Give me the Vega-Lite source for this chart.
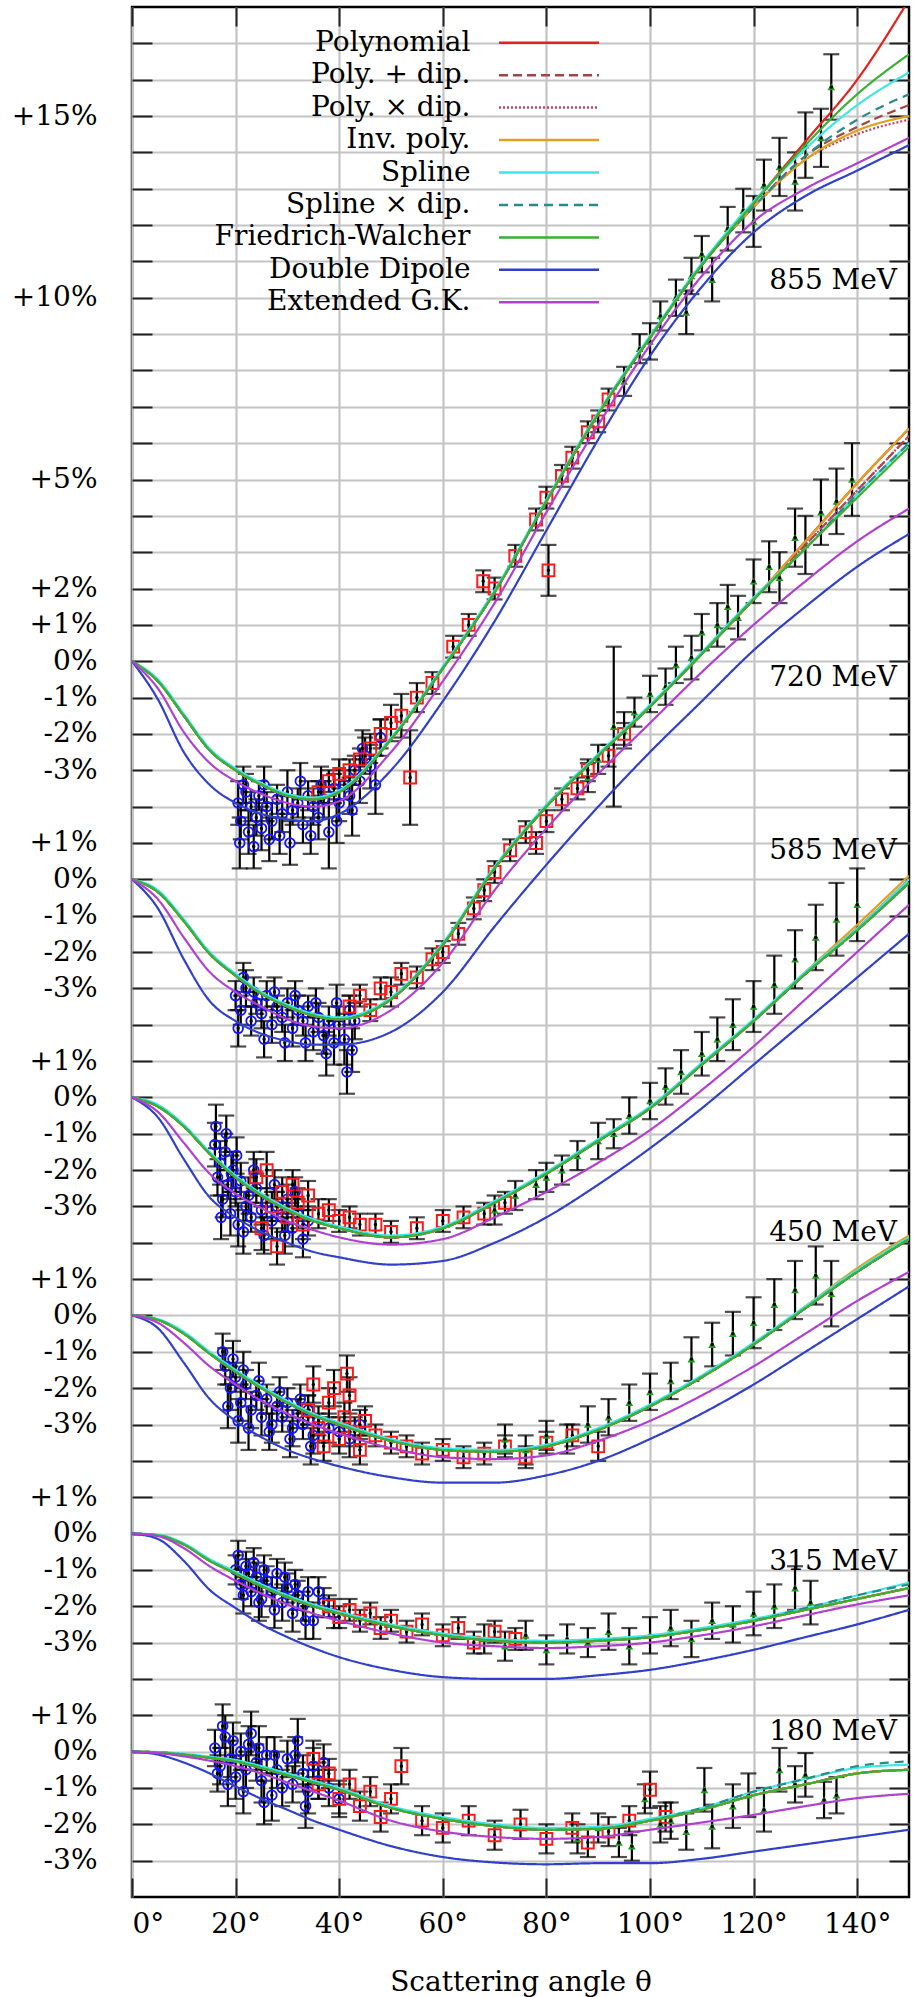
{
"$schema":"https://vega.github.io/schema/vega-lite/v6.json",
"width":777,"height":1890,
"autosize":{"type":"none"},
"padding":{"left":132,"top":7,"right":7,"bottom":100},
"background":"white",
"config":{"view":{"stroke":"black","strokeWidth":2.5},"font":"DejaVu Serif"},
"datasets":{
"curves":[
{"e":855,"t":0,"P":34,"PpD":34,"PxD":34,"IP":34,"S":34,"SxD":34,"FW":34,"DD":34,"EGK":34},
{"e":855,"t":5,"P":33.45,"PpD":33.45,"PxD":33.45,"IP":33.45,"S":33.5,"SxD":33.45,"FW":33.45,"DD":32.95,"EGK":33.25},
{"e":855,"t":10,"P":32.5,"PpD":32.5,"PxD":32.5,"IP":32.5,"S":32.55,"SxD":32.5,"FW":32.5,"DD":31.5,"EGK":32.05},
{"e":855,"t":15,"P":31.55,"PpD":31.55,"PxD":31.55,"IP":31.55,"S":31.6,"SxD":31.55,"FW":31.55,"DD":30.6,"EGK":31.2},
{"e":855,"t":20,"P":31.0,"PpD":31.0,"PxD":31.0,"IP":31.0,"S":31.05,"SxD":31.0,"FW":31.0,"DD":30.1,"EGK":30.7},
{"e":855,"t":25,"P":30.6,"PpD":30.6,"PxD":30.6,"IP":30.6,"S":30.65,"SxD":30.6,"FW":30.6,"DD":29.8,"EGK":30.35},
{"e":855,"t":30,"P":30.3,"PpD":30.3,"PxD":30.3,"IP":30.3,"S":30.35,"SxD":30.3,"FW":30.3,"DD":29.65,"EGK":30.1},
{"e":855,"t":35,"P":30.2,"PpD":30.2,"PxD":30.2,"IP":30.2,"S":30.25,"SxD":30.2,"FW":30.2,"DD":29.6,"EGK":30.0},
{"e":855,"t":40,"P":30.4,"PpD":30.4,"PxD":30.4,"IP":30.4,"S":30.45,"SxD":30.4,"FW":30.4,"DD":29.8,"EGK":30.15},
{"e":855,"t":50,"P":31.85,"PpD":31.85,"PxD":31.85,"IP":31.85,"S":31.9,"SxD":31.85,"FW":31.85,"DD":31.0,"EGK":31.5},
{"e":855,"t":60,"P":33.8,"PpD":33.8,"PxD":33.8,"IP":33.8,"S":33.85,"SxD":33.8,"FW":33.8,"DD":32.9,"EGK":33.45},
{"e":855,"t":70,"P":35.9,"PpD":35.9,"PxD":35.9,"IP":35.9,"S":35.95,"SxD":35.9,"FW":35.9,"DD":35.1,"EGK":35.6},
{"e":855,"t":80,"P":38.4,"PpD":38.4,"PxD":38.4,"IP":38.4,"S":38.45,"SxD":38.4,"FW":38.4,"DD":37.6,"EGK":38.1},
{"e":855,"t":90,"P":40.8,"PpD":40.8,"PxD":40.8,"IP":40.8,"S":40.85,"SxD":40.8,"FW":40.8,"DD":40.1,"EGK":40.5},
{"e":855,"t":100,"P":42.9,"PpD":42.9,"PxD":42.9,"IP":42.9,"S":42.95,"SxD":42.9,"FW":42.9,"DD":42.4,"EGK":42.7},
{"e":855,"t":110,"P":44.9,"PpD":44.9,"PxD":44.9,"IP":44.9,"S":44.95,"SxD":44.9,"FW":44.9,"DD":44.3,"EGK":44.6},
{"e":855,"t":120,"P":46.6,"PpD":46.5,"PxD":46.5,"IP":46.5,"S":46.65,"SxD":46.5,"FW":46.6,"DD":45.8,"EGK":46.1},
{"e":855,"t":130,"P":48.3,"PpD":47.9,"PxD":47.8,"IP":47.8,"S":48.1,"SxD":47.9,"FW":48.2,"DD":46.8,"EGK":47.0},
{"e":855,"t":140,"P":50.0,"PpD":48.7,"PxD":48.5,"IP":48.6,"S":49.3,"SxD":48.9,"FW":49.6,"DD":47.5,"EGK":47.7},
{"e":855,"t":150,"P":52.2,"PpD":49.3,"PxD":48.9,"IP":49.0,"S":50.2,"SxD":49.6,"FW":50.7,"DD":48.2,"EGK":48.4},
{"e":720,"t":0,"P":28,"PpD":28,"PxD":28,"IP":28,"S":28,"SxD":28,"FW":28,"DD":28,"EGK":28},
{"e":720,"t":5,"P":27.65,"PpD":27.65,"PxD":27.65,"IP":27.65,"S":27.7,"SxD":27.65,"FW":27.65,"DD":27.2,"EGK":27.45},
{"e":720,"t":10,"P":26.85,"PpD":26.85,"PxD":26.85,"IP":26.85,"S":26.9,"SxD":26.85,"FW":26.85,"DD":25.8,"EGK":26.4},
{"e":720,"t":15,"P":25.95,"PpD":25.95,"PxD":25.95,"IP":25.95,"S":26.0,"SxD":25.95,"FW":25.95,"DD":24.65,"EGK":25.45},
{"e":720,"t":20,"P":25.35,"PpD":25.35,"PxD":25.35,"IP":25.35,"S":25.4,"SxD":25.35,"FW":25.35,"DD":24.1,"EGK":24.9},
{"e":720,"t":25,"P":24.85,"PpD":24.85,"PxD":24.85,"IP":24.85,"S":24.9,"SxD":24.85,"FW":24.85,"DD":23.75,"EGK":24.5},
{"e":720,"t":30,"P":24.5,"PpD":24.5,"PxD":24.5,"IP":24.5,"S":24.55,"SxD":24.5,"FW":24.5,"DD":23.55,"EGK":24.15},
{"e":720,"t":35,"P":24.25,"PpD":24.25,"PxD":24.25,"IP":24.25,"S":24.3,"SxD":24.25,"FW":24.25,"DD":23.45,"EGK":23.95},
{"e":720,"t":40,"P":24.15,"PpD":24.15,"PxD":24.15,"IP":24.15,"S":24.2,"SxD":24.15,"FW":24.15,"DD":23.45,"EGK":23.9},
{"e":720,"t":50,"P":24.7,"PpD":24.7,"PxD":24.7,"IP":24.7,"S":24.75,"SxD":24.7,"FW":24.7,"DD":23.8,"EGK":24.4},
{"e":720,"t":60,"P":26.2,"PpD":26.2,"PxD":26.2,"IP":26.2,"S":26.25,"SxD":26.2,"FW":26.2,"DD":24.9,"EGK":25.7},
{"e":720,"t":70,"P":28.3,"PpD":28.3,"PxD":28.3,"IP":28.3,"S":28.35,"SxD":28.3,"FW":28.3,"DD":26.7,"EGK":27.7},
{"e":720,"t":80,"P":30.0,"PpD":30.0,"PxD":30.0,"IP":30.0,"S":30.05,"SxD":30.0,"FW":30.0,"DD":28.4,"EGK":29.4},
{"e":720,"t":90,"P":31.4,"PpD":31.4,"PxD":31.4,"IP":31.4,"S":31.45,"SxD":31.4,"FW":31.4,"DD":30.0,"EGK":30.9},
{"e":720,"t":100,"P":32.75,"PpD":32.75,"PxD":32.75,"IP":32.75,"S":32.8,"SxD":32.75,"FW":32.75,"DD":31.5,"EGK":32.3},
{"e":720,"t":110,"P":34.2,"PpD":34.2,"PxD":34.2,"IP":34.2,"S":34.25,"SxD":34.2,"FW":34.2,"DD":32.9,"EGK":33.7},
{"e":720,"t":120,"P":35.7,"PpD":35.7,"PxD":35.7,"IP":35.7,"S":35.75,"SxD":35.7,"FW":35.7,"DD":34.3,"EGK":35.0},
{"e":720,"t":130,"P":37.3,"PpD":37.2,"PxD":37.2,"IP":37.3,"S":37.1,"SxD":37.1,"FW":37.1,"DD":35.5,"EGK":36.2},
{"e":720,"t":140,"P":38.9,"PpD":38.7,"PxD":38.7,"IP":38.9,"S":38.6,"SxD":38.6,"FW":38.5,"DD":36.6,"EGK":37.3},
{"e":720,"t":150,"P":40.4,"PpD":40.2,"PxD":40.2,"IP":40.4,"S":40.0,"SxD":40.0,"FW":39.9,"DD":37.5,"EGK":38.2},
{"e":585,"t":0,"P":22,"PpD":22,"PxD":22,"IP":22,"S":22,"SxD":22,"FW":22,"DD":22,"EGK":22},
{"e":585,"t":5,"P":21.75,"PpD":21.75,"PxD":21.75,"IP":21.75,"S":21.8,"SxD":21.75,"FW":21.75,"DD":21.45,"EGK":21.6},
{"e":585,"t":10,"P":21.2,"PpD":21.2,"PxD":21.2,"IP":21.2,"S":21.25,"SxD":21.2,"FW":21.2,"DD":20.3,"EGK":20.75},
{"e":585,"t":15,"P":20.45,"PpD":20.45,"PxD":20.45,"IP":20.45,"S":20.5,"SxD":20.45,"FW":20.45,"DD":19.25,"EGK":19.9},
{"e":585,"t":20,"P":19.8,"PpD":19.8,"PxD":19.8,"IP":19.8,"S":19.85,"SxD":19.8,"FW":19.8,"DD":18.7,"EGK":19.35},
{"e":585,"t":25,"P":19.3,"PpD":19.3,"PxD":19.3,"IP":19.3,"S":19.35,"SxD":19.3,"FW":19.3,"DD":18.3,"EGK":18.95},
{"e":585,"t":30,"P":18.9,"PpD":18.9,"PxD":18.9,"IP":18.9,"S":18.95,"SxD":18.9,"FW":18.9,"DD":18.0,"EGK":18.6},
{"e":585,"t":35,"P":18.6,"PpD":18.6,"PxD":18.6,"IP":18.6,"S":18.65,"SxD":18.6,"FW":18.6,"DD":17.75,"EGK":18.35},
{"e":585,"t":40,"P":18.4,"PpD":18.4,"PxD":18.4,"IP":18.4,"S":18.45,"SxD":18.4,"FW":18.4,"DD":17.6,"EGK":18.15},
{"e":585,"t":50,"P":18.15,"PpD":18.15,"PxD":18.15,"IP":18.15,"S":18.2,"SxD":18.15,"FW":18.15,"DD":17.4,"EGK":17.95},
{"e":585,"t":60,"P":18.4,"PpD":18.4,"PxD":18.4,"IP":18.4,"S":18.45,"SxD":18.4,"FW":18.4,"DD":17.5,"EGK":18.1},
{"e":585,"t":70,"P":19.1,"PpD":19.1,"PxD":19.1,"IP":19.1,"S":19.15,"SxD":19.1,"FW":19.1,"DD":18.0,"EGK":18.7},
{"e":585,"t":80,"P":19.9,"PpD":19.9,"PxD":19.9,"IP":19.9,"S":19.95,"SxD":19.9,"FW":19.9,"DD":18.7,"EGK":19.4},
{"e":585,"t":90,"P":20.8,"PpD":20.8,"PxD":20.8,"IP":20.8,"S":20.85,"SxD":20.8,"FW":20.8,"DD":19.6,"EGK":20.2},
{"e":585,"t":100,"P":21.7,"PpD":21.7,"PxD":21.7,"IP":21.7,"S":21.75,"SxD":21.7,"FW":21.7,"DD":20.6,"EGK":21.1},
{"e":585,"t":110,"P":22.9,"PpD":22.9,"PxD":22.9,"IP":22.9,"S":22.95,"SxD":22.9,"FW":22.9,"DD":21.7,"EGK":22.2},
{"e":585,"t":120,"P":24.1,"PpD":24.1,"PxD":24.1,"IP":24.1,"S":24.15,"SxD":24.1,"FW":24.1,"DD":22.9,"EGK":23.4},
{"e":585,"t":130,"P":25.4,"PpD":25.4,"PxD":25.4,"IP":25.45,"S":25.45,"SxD":25.4,"FW":25.4,"DD":24.1,"EGK":24.7},
{"e":585,"t":140,"P":26.65,"PpD":26.6,"PxD":26.6,"IP":26.75,"S":26.65,"SxD":26.6,"FW":26.6,"DD":25.3,"EGK":26.0},
{"e":585,"t":150,"P":28.0,"PpD":27.9,"PxD":27.9,"IP":28.1,"S":28.0,"SxD":27.9,"FW":27.9,"DD":26.5,"EGK":27.3},
{"e":450,"t":0,"P":16,"PpD":16,"PxD":16,"IP":16,"S":16,"SxD":16,"FW":16,"DD":16,"EGK":16},
{"e":450,"t":5,"P":15.88,"PpD":15.88,"PxD":15.88,"IP":15.88,"S":15.9,"SxD":15.88,"FW":15.88,"DD":15.65,"EGK":15.8},
{"e":450,"t":10,"P":15.5,"PpD":15.5,"PxD":15.5,"IP":15.5,"S":15.55,"SxD":15.5,"FW":15.5,"DD":14.7,"EGK":15.25},
{"e":450,"t":15,"P":14.95,"PpD":14.95,"PxD":14.95,"IP":14.95,"S":15.0,"SxD":14.95,"FW":14.95,"DD":13.7,"EGK":14.6},
{"e":450,"t":20,"P":14.45,"PpD":14.45,"PxD":14.45,"IP":14.45,"S":14.5,"SxD":14.45,"FW":14.45,"DD":13.1,"EGK":14.1},
{"e":450,"t":25,"P":14.0,"PpD":14.0,"PxD":14.0,"IP":14.0,"S":14.05,"SxD":14.0,"FW":14.0,"DD":12.65,"EGK":13.65},
{"e":450,"t":30,"P":13.6,"PpD":13.6,"PxD":13.6,"IP":13.6,"S":13.65,"SxD":13.6,"FW":13.6,"DD":12.3,"EGK":13.3},
{"e":450,"t":35,"P":13.25,"PpD":13.25,"PxD":13.25,"IP":13.25,"S":13.3,"SxD":13.25,"FW":13.25,"DD":12.05,"EGK":13.0},
{"e":450,"t":40,"P":13.0,"PpD":13.0,"PxD":13.0,"IP":13.0,"S":13.05,"SxD":13.0,"FW":13.0,"DD":11.85,"EGK":12.75},
{"e":450,"t":50,"P":12.55,"PpD":12.55,"PxD":12.55,"IP":12.55,"S":12.6,"SxD":12.55,"FW":12.55,"DD":11.55,"EGK":12.35},
{"e":450,"t":60,"P":12.3,"PpD":12.3,"PxD":12.3,"IP":12.3,"S":12.35,"SxD":12.3,"FW":12.3,"DD":11.4,"EGK":12.1},
{"e":450,"t":70,"P":12.25,"PpD":12.25,"PxD":12.25,"IP":12.25,"S":12.3,"SxD":12.25,"FW":12.25,"DD":11.4,"EGK":12.05},
{"e":450,"t":80,"P":12.4,"PpD":12.4,"PxD":12.4,"IP":12.4,"S":12.45,"SxD":12.4,"FW":12.4,"DD":11.6,"EGK":12.15},
{"e":450,"t":90,"P":12.85,"PpD":12.85,"PxD":12.85,"IP":12.85,"S":12.9,"SxD":12.85,"FW":12.85,"DD":12.0,"EGK":12.55},
{"e":450,"t":100,"P":13.5,"PpD":13.5,"PxD":13.5,"IP":13.5,"S":13.55,"SxD":13.5,"FW":13.5,"DD":12.6,"EGK":13.1},
{"e":450,"t":110,"P":14.3,"PpD":14.3,"PxD":14.3,"IP":14.3,"S":14.35,"SxD":14.3,"FW":14.3,"DD":13.3,"EGK":13.8},
{"e":450,"t":120,"P":15.2,"PpD":15.2,"PxD":15.2,"IP":15.2,"S":15.25,"SxD":15.2,"FW":15.2,"DD":14.1,"EGK":14.6},
{"e":450,"t":130,"P":16.2,"PpD":16.2,"PxD":16.2,"IP":16.25,"S":16.25,"SxD":16.2,"FW":16.2,"DD":15.0,"EGK":15.5},
{"e":450,"t":140,"P":17.2,"PpD":17.2,"PxD":17.2,"IP":17.3,"S":17.25,"SxD":17.2,"FW":17.2,"DD":15.9,"EGK":16.4},
{"e":450,"t":150,"P":18.1,"PpD":18.1,"PxD":18.1,"IP":18.2,"S":18.15,"SxD":18.1,"FW":18.1,"DD":16.8,"EGK":17.2},
{"e":315,"t":0,"P":10,"PpD":10,"PxD":10,"IP":10,"S":10,"SxD":10,"FW":10,"DD":10,"EGK":10},
{"e":315,"t":5,"P":9.95,"PpD":9.95,"PxD":9.95,"IP":9.95,"S":9.97,"SxD":9.95,"FW":9.95,"DD":9.85,"EGK":9.93},
{"e":315,"t":10,"P":9.7,"PpD":9.7,"PxD":9.7,"IP":9.7,"S":9.73,"SxD":9.7,"FW":9.7,"DD":9.25,"EGK":9.6},
{"e":315,"t":15,"P":9.25,"PpD":9.25,"PxD":9.25,"IP":9.25,"S":9.3,"SxD":9.25,"FW":9.25,"DD":8.45,"EGK":9.1},
{"e":315,"t":20,"P":8.9,"PpD":8.9,"PxD":8.9,"IP":8.9,"S":8.95,"SxD":8.9,"FW":8.9,"DD":7.95,"EGK":8.7},
{"e":315,"t":25,"P":8.55,"PpD":8.55,"PxD":8.55,"IP":8.55,"S":8.6,"SxD":8.55,"FW":8.55,"DD":7.5,"EGK":8.35},
{"e":315,"t":30,"P":8.25,"PpD":8.25,"PxD":8.25,"IP":8.25,"S":8.3,"SxD":8.25,"FW":8.25,"DD":7.15,"EGK":8.05},
{"e":315,"t":35,"P":8.0,"PpD":8.0,"PxD":8.0,"IP":8.0,"S":8.05,"SxD":8.0,"FW":8.0,"DD":6.85,"EGK":7.8},
{"e":315,"t":40,"P":7.8,"PpD":7.8,"PxD":7.8,"IP":7.8,"S":7.85,"SxD":7.8,"FW":7.8,"DD":6.6,"EGK":7.6},
{"e":315,"t":50,"P":7.45,"PpD":7.45,"PxD":7.45,"IP":7.45,"S":7.5,"SxD":7.45,"FW":7.45,"DD":6.25,"EGK":7.25},
{"e":315,"t":60,"P":7.2,"PpD":7.2,"PxD":7.2,"IP":7.2,"S":7.25,"SxD":7.2,"FW":7.2,"DD":6.05,"EGK":7.0},
{"e":315,"t":70,"P":7.05,"PpD":7.05,"PxD":7.05,"IP":7.05,"S":7.1,"SxD":7.05,"FW":7.05,"DD":6.0,"EGK":6.9},
{"e":315,"t":80,"P":7.0,"PpD":7.0,"PxD":7.0,"IP":7.0,"S":7.05,"SxD":7.0,"FW":7.0,"DD":6.0,"EGK":6.85},
{"e":315,"t":90,"P":7.05,"PpD":7.05,"PxD":7.05,"IP":7.05,"S":7.1,"SxD":7.05,"FW":7.05,"DD":6.1,"EGK":6.9},
{"e":315,"t":100,"P":7.15,"PpD":7.15,"PxD":7.15,"IP":7.15,"S":7.2,"SxD":7.15,"FW":7.15,"DD":6.25,"EGK":7.0},
{"e":315,"t":110,"P":7.35,"PpD":7.35,"PxD":7.35,"IP":7.35,"S":7.4,"SxD":7.35,"FW":7.35,"DD":6.5,"EGK":7.2},
{"e":315,"t":120,"P":7.6,"PpD":7.6,"PxD":7.6,"IP":7.6,"S":7.65,"SxD":7.6,"FW":7.6,"DD":6.8,"EGK":7.45},
{"e":315,"t":130,"P":7.9,"PpD":7.9,"PxD":7.9,"IP":7.9,"S":7.95,"SxD":7.95,"FW":7.9,"DD":7.15,"EGK":7.75},
{"e":315,"t":140,"P":8.2,"PpD":8.2,"PxD":8.2,"IP":8.2,"S":8.3,"SxD":8.3,"FW":8.2,"DD":7.5,"EGK":8.05},
{"e":315,"t":150,"P":8.5,"PpD":8.5,"PxD":8.5,"IP":8.5,"S":8.65,"SxD":8.6,"FW":8.5,"DD":7.9,"EGK":8.3},
{"e":180,"t":0,"P":4,"PpD":4,"PxD":4,"IP":4,"S":4,"SxD":4,"FW":4,"DD":4,"EGK":4},
{"e":180,"t":5,"P":3.98,"PpD":3.98,"PxD":3.98,"IP":3.98,"S":3.99,"SxD":3.98,"FW":3.98,"DD":3.92,"EGK":3.96},
{"e":180,"t":10,"P":3.92,"PpD":3.92,"PxD":3.92,"IP":3.92,"S":3.94,"SxD":3.92,"FW":3.92,"DD":3.7,"EGK":3.87},
{"e":180,"t":15,"P":3.83,"PpD":3.83,"PxD":3.83,"IP":3.83,"S":3.86,"SxD":3.83,"FW":3.83,"DD":3.4,"EGK":3.75},
{"e":180,"t":20,"P":3.73,"PpD":3.73,"PxD":3.73,"IP":3.73,"S":3.77,"SxD":3.73,"FW":3.73,"DD":3.04,"EGK":3.6},
{"e":180,"t":25,"P":3.55,"PpD":3.55,"PxD":3.55,"IP":3.55,"S":3.6,"SxD":3.55,"FW":3.55,"DD":2.7,"EGK":3.4},
{"e":180,"t":30,"P":3.35,"PpD":3.35,"PxD":3.35,"IP":3.35,"S":3.4,"SxD":3.35,"FW":3.35,"DD":2.4,"EGK":3.15},
{"e":180,"t":35,"P":3.15,"PpD":3.15,"PxD":3.15,"IP":3.15,"S":3.2,"SxD":3.15,"FW":3.15,"DD":2.1,"EGK":2.9},
{"e":180,"t":40,"P":2.95,"PpD":2.95,"PxD":2.95,"IP":2.95,"S":3.0,"SxD":2.95,"FW":2.95,"DD":1.85,"EGK":2.65},
{"e":180,"t":50,"P":2.45,"PpD":2.45,"PxD":2.45,"IP":2.45,"S":2.5,"SxD":2.45,"FW":2.45,"DD":1.4,"EGK":2.1},
{"e":180,"t":60,"P":2.15,"PpD":2.15,"PxD":2.15,"IP":2.15,"S":2.2,"SxD":2.15,"FW":2.15,"DD":1.1,"EGK":1.8},
{"e":180,"t":70,"P":1.95,"PpD":1.95,"PxD":1.95,"IP":1.95,"S":2.0,"SxD":1.95,"FW":1.95,"DD":0.95,"EGK":1.65},
{"e":180,"t":80,"P":1.85,"PpD":1.85,"PxD":1.85,"IP":1.85,"S":1.9,"SxD":1.85,"FW":1.85,"DD":0.9,"EGK":1.6},
{"e":180,"t":90,"P":1.88,"PpD":1.88,"PxD":1.88,"IP":1.88,"S":1.93,"SxD":1.88,"FW":1.88,"DD":0.93,"EGK":1.65},
{"e":180,"t":100,"P":2.1,"PpD":2.1,"PxD":2.1,"IP":2.1,"S":2.15,"SxD":2.1,"FW":2.1,"DD":0.93,"EGK":1.85},
{"e":180,"t":110,"P":2.4,"PpD":2.4,"PxD":2.4,"IP":2.4,"S":2.45,"SxD":2.45,"FW":2.4,"DD":1.05,"EGK":2.05},
{"e":180,"t":120,"P":2.8,"PpD":2.8,"PxD":2.8,"IP":2.8,"S":2.9,"SxD":2.9,"FW":2.8,"DD":1.25,"EGK":2.26},
{"e":180,"t":130,"P":3.1,"PpD":3.1,"PxD":3.1,"IP":3.1,"S":3.25,"SxD":3.25,"FW":3.1,"DD":1.45,"EGK":2.5},
{"e":180,"t":140,"P":3.4,"PpD":3.4,"PxD":3.4,"IP":3.4,"S":3.55,"SxD":3.6,"FW":3.4,"DD":1.65,"EGK":2.72},
{"e":180,"t":150,"P":3.5,"PpD":3.5,"PxD":3.5,"IP":3.5,"S":3.64,"SxD":3.73,"FW":3.5,"DD":1.85,"EGK":2.84}
],
"points":[
{"e":855,"s":"A","t":20.5,"y":30.1,"err":0.6},{"e":855,"s":"A","t":21,"y":29.6,"err":0.5},{"e":855,"s":"A","t":22,"y":30.4,"err":0.5},{"e":855,"s":"A","t":22.5,"y":29.3,"err":0.6},{"e":855,"s":"A","t":23,"y":30.0,"err":0.4},{"e":855,"s":"A","t":24,"y":29.7,"err":0.5},{"e":855,"s":"A","t":24.5,"y":30.3,"err":0.4},{"e":855,"s":"A","t":25,"y":29.4,"err":0.6},{"e":855,"s":"A","t":26,"y":30.0,"err":0.4},{"e":855,"s":"A","t":27,"y":29.6,"err":0.5},{"e":855,"s":"A","t":28,"y":30.2,"err":0.4},{"e":855,"s":"A","t":29,"y":29.8,"err":0.5},{"e":855,"s":"A","t":30,"y":30.4,"err":0.6},{"e":855,"s":"A","t":31,"y":29.9,"err":0.4},{"e":855,"s":"A","t":32,"y":30.1,"err":0.4},{"e":855,"s":"A","t":33,"y":29.5,"err":0.5},{"e":855,"s":"A","t":34,"y":30.3,"err":0.4},{"e":855,"s":"A","t":35,"y":30.0,"err":0.5},{"e":855,"s":"A","t":36,"y":29.7,"err":0.6},{"e":855,"s":"A","t":37,"y":30.2,"err":0.5},{"e":855,"s":"A","t":38,"y":29.3,"err":1.0},{"e":855,"s":"A","t":39,"y":30.5,"err":0.4},{"e":855,"s":"A","t":40,"y":30.1,"err":0.5},{"e":855,"s":"A","t":41,"y":30.6,"err":0.4},{"e":855,"s":"A","t":42,"y":30.3,"err":0.5},{"e":855,"s":"A","t":43,"y":31.0,"err":0.4},{"e":855,"s":"A","t":44,"y":30.7,"err":0.6},{"e":855,"s":"A","t":45,"y":31.4,"err":0.5},{"e":855,"s":"A","t":46,"y":31.1,"err":0.6},{"e":855,"s":"A","t":48,"y":31.9,"err":0.5},
{"e":855,"s":"A","t":20.8,"y":29.0,"err":0.7},{"e":855,"s":"A","t":21.5,"y":30.6,"err":0.5},{"e":855,"s":"A","t":23.5,"y":28.9,"err":0.6},{"e":855,"s":"A","t":25.5,"y":30.6,"err":0.5},{"e":855,"s":"A","t":26.5,"y":29.1,"err":0.6},{"e":855,"s":"A","t":28.5,"y":29.2,"err":0.5},{"e":855,"s":"A","t":30.5,"y":29.0,"err":0.6},{"e":855,"s":"A","t":32.5,"y":30.7,"err":0.5},{"e":855,"s":"A","t":34.5,"y":29.2,"err":0.5},{"e":855,"s":"A","t":36.5,"y":30.6,"err":0.5},{"e":855,"s":"A","t":39.5,"y":29.6,"err":0.6},{"e":855,"s":"A","t":42.5,"y":29.9,"err":0.7},{"e":855,"s":"A","t":44.5,"y":31.6,"err":0.5},{"e":855,"s":"A","t":47,"y":30.6,"err":0.8},
{"e":855,"s":"B","t":36,"y":30.4,"err":0.3},{"e":855,"s":"B","t":38,"y":30.7,"err":0.3},{"e":855,"s":"B","t":40,"y":30.9,"err":0.4},{"e":855,"s":"B","t":42,"y":31.0,"err":0.3},{"e":855,"s":"B","t":44,"y":31.3,"err":0.3},{"e":855,"s":"B","t":46,"y":31.6,"err":0.4},{"e":855,"s":"B","t":48,"y":32.0,"err":0.4},{"e":855,"s":"B","t":50,"y":32.3,"err":0.5},{"e":855,"s":"B","t":52,"y":32.5,"err":0.6},{"e":855,"s":"B","t":53.7,"y":30.8,"err":1.3},{"e":855,"s":"B","t":55,"y":33.0,"err":0.4},{"e":855,"s":"B","t":58,"y":33.4,"err":0.3},{"e":855,"s":"B","t":62,"y":34.4,"err":0.3},{"e":855,"s":"B","t":65,"y":35.0,"err":0.3},{"e":855,"s":"B","t":67.8,"y":36.2,"err":0.3},{"e":855,"s":"B","t":70,"y":36.0,"err":0.3},{"e":855,"s":"B","t":74,"y":36.9,"err":0.3},{"e":855,"s":"B","t":78,"y":37.9,"err":0.3},{"e":855,"s":"B","t":80,"y":38.5,"err":0.3},{"e":855,"s":"B","t":80.4,"y":36.5,"err":0.7},{"e":855,"s":"B","t":83,"y":39.1,"err":0.3},{"e":855,"s":"B","t":85,"y":39.6,"err":0.3},{"e":855,"s":"B","t":88,"y":40.3,"err":0.3},{"e":855,"s":"B","t":90,"y":40.6,"err":0.3},{"e":855,"s":"B","t":92,"y":41.2,"err":0.3},
{"e":855,"s":"C","t":95,"y":41.7,"err":0.4},{"e":855,"s":"C","t":98,"y":42.6,"err":0.4},{"e":855,"s":"C","t":100,"y":42.8,"err":0.5},{"e":855,"s":"C","t":102,"y":43.5,"err":0.4},{"e":855,"s":"C","t":105,"y":44.0,"err":0.5},{"e":855,"s":"C","t":107,"y":43.6,"err":0.6},{"e":855,"s":"C","t":108,"y":44.6,"err":0.5},{"e":855,"s":"C","t":110,"y":45.2,"err":0.5},{"e":855,"s":"C","t":112,"y":44.5,"err":0.6},{"e":855,"s":"C","t":115,"y":45.9,"err":0.6},{"e":855,"s":"C","t":118,"y":46.4,"err":0.6},{"e":855,"s":"C","t":120,"y":46.1,"err":0.7},{"e":855,"s":"C","t":122,"y":47.1,"err":0.7},{"e":855,"s":"C","t":125,"y":47.6,"err":0.8},{"e":855,"s":"C","t":128,"y":47.2,"err":0.8},{"e":855,"s":"C","t":130,"y":48.2,"err":0.9},{"e":855,"s":"C","t":133,"y":48.4,"err":0.8},{"e":855,"s":"C","t":135,"y":49.8,"err":0.9},
{"e":720,"s":"A","t":20,"y":24.8,"err":0.4},{"e":720,"s":"A","t":21,"y":24.4,"err":0.4},{"e":720,"s":"A","t":22,"y":25.0,"err":0.5},{"e":720,"s":"A","t":23,"y":24.1,"err":0.4},{"e":720,"s":"A","t":24,"y":24.6,"err":0.3},{"e":720,"s":"A","t":25,"y":24.3,"err":0.4},{"e":720,"s":"A","t":26,"y":24.8,"err":0.4},{"e":720,"s":"A","t":27,"y":24.0,"err":0.5},{"e":720,"s":"A","t":28,"y":24.5,"err":0.3},{"e":720,"s":"A","t":29,"y":24.2,"err":0.4},{"e":720,"s":"A","t":30,"y":24.6,"err":0.4},{"e":720,"s":"A","t":31,"y":23.9,"err":0.5},{"e":720,"s":"A","t":32,"y":24.4,"err":0.4},{"e":720,"s":"A","t":33,"y":24.1,"err":0.4},{"e":720,"s":"A","t":34,"y":24.5,"err":0.3},{"e":720,"s":"A","t":35,"y":23.8,"err":0.5},{"e":720,"s":"A","t":36,"y":24.2,"err":0.4},{"e":720,"s":"A","t":37,"y":23.7,"err":0.5},{"e":720,"s":"A","t":38,"y":24.1,"err":0.4},{"e":720,"s":"A","t":39,"y":23.5,"err":0.6},{"e":720,"s":"A","t":40,"y":24.0,"err":0.5},{"e":720,"s":"A","t":41,"y":23.6,"err":0.7},{"e":720,"s":"A","t":41.5,"y":22.7,"err":0.6},{"e":720,"s":"A","t":42,"y":24.4,"err":0.4},{"e":720,"s":"A","t":43,"y":24.1,"err":0.5},
{"e":720,"s":"A","t":20.5,"y":23.9,"err":0.5},{"e":720,"s":"A","t":21.5,"y":25.3,"err":0.4},{"e":720,"s":"A","t":23.5,"y":24.9,"err":0.4},{"e":720,"s":"A","t":25.5,"y":23.6,"err":0.5},{"e":720,"s":"A","t":27.5,"y":24.9,"err":0.4},{"e":720,"s":"A","t":29.5,"y":23.5,"err":0.5},{"e":720,"s":"A","t":31.5,"y":24.8,"err":0.4},{"e":720,"s":"A","t":33.5,"y":23.5,"err":0.5},{"e":720,"s":"A","t":35.5,"y":24.6,"err":0.4},{"e":720,"s":"A","t":37.5,"y":23.2,"err":0.6},{"e":720,"s":"A","t":39.5,"y":24.6,"err":0.5},{"e":720,"s":"A","t":42.5,"y":23.3,"err":0.6},
{"e":720,"s":"B","t":42,"y":24.5,"err":0.3},{"e":720,"s":"B","t":44,"y":24.8,"err":0.3},{"e":720,"s":"B","t":46,"y":24.4,"err":0.3},{"e":720,"s":"B","t":48,"y":25.0,"err":0.3},{"e":720,"s":"B","t":50,"y":24.9,"err":0.4},{"e":720,"s":"B","t":52,"y":25.4,"err":0.3},{"e":720,"s":"B","t":55,"y":25.3,"err":0.3},{"e":720,"s":"B","t":58,"y":25.8,"err":0.3},{"e":720,"s":"B","t":60,"y":26.0,"err":0.3},{"e":720,"s":"B","t":63,"y":26.5,"err":0.3},{"e":720,"s":"B","t":66,"y":27.2,"err":0.3},{"e":720,"s":"B","t":68,"y":27.7,"err":0.3},{"e":720,"s":"B","t":70,"y":28.2,"err":0.3},{"e":720,"s":"B","t":73,"y":28.8,"err":0.3},{"e":720,"s":"B","t":76,"y":29.3,"err":0.3},{"e":720,"s":"B","t":78,"y":29.0,"err":0.3},{"e":720,"s":"B","t":80,"y":29.6,"err":0.3},{"e":720,"s":"B","t":83,"y":30.2,"err":0.3},{"e":720,"s":"B","t":86,"y":30.5,"err":0.3},{"e":720,"s":"B","t":88,"y":31.0,"err":0.3},{"e":720,"s":"B","t":92,"y":31.4,"err":0.3},{"e":720,"s":"B","t":95,"y":32.0,"err":0.3},
{"e":720,"s":"C","t":88,"y":30.8,"err":0.4},{"e":720,"s":"C","t":90,"y":31.3,"err":0.4},{"e":720,"s":"C","t":93,"y":32.2,"err":2.2},{"e":720,"s":"C","t":95,"y":32.1,"err":0.5},{"e":720,"s":"C","t":97,"y":32.6,"err":0.4},{"e":720,"s":"C","t":100,"y":33.1,"err":0.5},{"e":720,"s":"C","t":103,"y":33.3,"err":0.5},{"e":720,"s":"C","t":105,"y":33.9,"err":0.5},{"e":720,"s":"C","t":108,"y":34.1,"err":0.6},{"e":720,"s":"C","t":110,"y":34.8,"err":0.5},{"e":720,"s":"C","t":113,"y":35.0,"err":0.6},{"e":720,"s":"C","t":115,"y":35.5,"err":0.6},{"e":720,"s":"C","t":117,"y":35.2,"err":0.6},{"e":720,"s":"C","t":120,"y":36.2,"err":0.6},{"e":720,"s":"C","t":123,"y":36.6,"err":0.7},{"e":720,"s":"C","t":125,"y":36.3,"err":0.7},{"e":720,"s":"C","t":128,"y":37.4,"err":0.8},{"e":720,"s":"C","t":130,"y":37.2,"err":0.8},{"e":720,"s":"C","t":133,"y":38.1,"err":0.9},{"e":720,"s":"C","t":136,"y":38.4,"err":0.9},{"e":720,"s":"C","t":139,"y":39.0,"err":1.0},
{"e":585,"s":"A","t":16,"y":20.7,"err":0.6},{"e":585,"s":"A","t":16.5,"y":19.8,"err":0.5},{"e":585,"s":"A","t":17,"y":20.2,"err":0.6},{"e":585,"s":"A","t":17.5,"y":19.2,"err":0.5},{"e":585,"s":"A","t":18,"y":20.5,"err":0.5},{"e":585,"s":"A","t":18.5,"y":19.6,"err":0.4},{"e":585,"s":"A","t":19,"y":18.8,"err":0.6},{"e":585,"s":"A","t":19.5,"y":20.0,"err":0.5},{"e":585,"s":"A","t":20,"y":19.4,"err":0.4},{"e":585,"s":"A","t":20.5,"y":18.5,"err":0.6},{"e":585,"s":"A","t":21,"y":19.7,"err":0.5},{"e":585,"s":"A","t":22,"y":19.0,"err":0.4},{"e":585,"s":"A","t":22.5,"y":19.3,"err":0.5},{"e":585,"s":"A","t":23,"y":18.7,"err":0.4},{"e":585,"s":"A","t":24,"y":19.5,"err":0.4},{"e":585,"s":"A","t":25,"y":18.9,"err":0.4},{"e":585,"s":"A","t":26,"y":19.1,"err":0.4},{"e":585,"s":"A","t":27,"y":18.6,"err":0.5},{"e":585,"s":"A","t":28,"y":19.0,"err":0.4},{"e":585,"s":"A","t":29,"y":18.7,"err":0.4},{"e":585,"s":"A","t":30,"y":19.2,"err":0.4},{"e":585,"s":"A","t":31,"y":18.4,"err":0.5},{"e":585,"s":"A","t":32,"y":18.8,"err":0.4},{"e":585,"s":"A","t":34,"y":18.6,"err":0.4},
{"e":585,"s":"A","t":16.2,"y":21.2,"err":0.6},{"e":585,"s":"A","t":17.2,"y":18.7,"err":0.6},{"e":585,"s":"A","t":18.2,"y":21.0,"err":0.5},{"e":585,"s":"A","t":19.2,"y":19.9,"err":0.5},{"e":585,"s":"A","t":20.2,"y":20.4,"err":0.5},{"e":585,"s":"A","t":21.5,"y":18.3,"err":0.6},{"e":585,"s":"A","t":23.5,"y":20.0,"err":0.5},{"e":585,"s":"A","t":25.5,"y":18.2,"err":0.5},{"e":585,"s":"A","t":27.5,"y":19.6,"err":0.4},{"e":585,"s":"A","t":29.5,"y":18.2,"err":0.5},{"e":585,"s":"A","t":31.5,"y":19.4,"err":0.4},{"e":585,"s":"A","t":33,"y":18.1,"err":0.5},
{"e":585,"s":"B","t":24,"y":19.8,"err":0.5},{"e":585,"s":"B","t":25,"y":18.4,"err":0.6},{"e":585,"s":"B","t":26,"y":20.0,"err":0.5},{"e":585,"s":"B","t":27,"y":19.0,"err":0.4},{"e":585,"s":"B","t":28,"y":17.9,"err":0.5},{"e":585,"s":"B","t":29,"y":19.4,"err":0.4},{"e":585,"s":"B","t":30,"y":18.7,"err":0.4},{"e":585,"s":"B","t":31,"y":19.6,"err":0.4},{"e":585,"s":"B","t":32,"y":19.1,"err":0.4},{"e":585,"s":"B","t":33,"y":18.5,"err":0.4},{"e":585,"s":"B","t":34,"y":19.3,"err":0.4},{"e":585,"s":"B","t":36,"y":18.8,"err":0.4},{"e":585,"s":"B","t":38,"y":18.9,"err":0.3},{"e":585,"s":"B","t":40,"y":18.6,"err":0.3},{"e":585,"s":"B","t":42,"y":18.7,"err":0.3},{"e":585,"s":"B","t":44,"y":18.5,"err":0.3},{"e":585,"s":"B","t":47,"y":18.5,"err":0.3},{"e":585,"s":"B","t":50,"y":18.3,"err":0.3},{"e":585,"s":"B","t":55,"y":18.4,"err":0.3},{"e":585,"s":"B","t":60,"y":18.6,"err":0.3},{"e":585,"s":"B","t":64,"y":18.7,"err":0.3},{"e":585,"s":"B","t":68,"y":18.8,"err":0.3},{"e":585,"s":"B","t":72,"y":19.1,"err":0.3},
{"e":585,"s":"C","t":70,"y":18.9,"err":0.4},{"e":585,"s":"C","t":74,"y":19.3,"err":0.4},{"e":585,"s":"C","t":78,"y":19.6,"err":0.4},{"e":585,"s":"C","t":80,"y":19.8,"err":0.4},{"e":585,"s":"C","t":83,"y":20.0,"err":0.4},{"e":585,"s":"C","t":86,"y":20.4,"err":0.4},{"e":585,"s":"C","t":90,"y":20.8,"err":0.5},{"e":585,"s":"C","t":93,"y":21.0,"err":0.4},{"e":585,"s":"C","t":96,"y":21.5,"err":0.5},{"e":585,"s":"C","t":100,"y":21.9,"err":0.5},{"e":585,"s":"C","t":103,"y":22.3,"err":0.5},{"e":585,"s":"C","t":106,"y":22.7,"err":0.6},{"e":585,"s":"C","t":110,"y":23.2,"err":0.6},{"e":585,"s":"C","t":113,"y":23.6,"err":0.6},{"e":585,"s":"C","t":116,"y":24.0,"err":0.7},{"e":585,"s":"C","t":120,"y":24.5,"err":0.7},{"e":585,"s":"C","t":124,"y":25.1,"err":0.8},{"e":585,"s":"C","t":128,"y":25.8,"err":0.8},{"e":585,"s":"C","t":132,"y":26.4,"err":0.9},{"e":585,"s":"C","t":136,"y":26.9,"err":1.0},{"e":585,"s":"C","t":140,"y":27.3,"err":1.0},
{"e":450,"s":"A","t":18,"y":14.6,"err":0.5},{"e":450,"s":"A","t":19,"y":14.0,"err":0.6},{"e":450,"s":"A","t":20,"y":14.3,"err":0.4},{"e":450,"s":"A","t":21,"y":13.6,"err":0.5},{"e":450,"s":"A","t":22,"y":14.1,"err":0.4},{"e":450,"s":"A","t":23,"y":13.4,"err":0.5},{"e":450,"s":"A","t":24,"y":13.8,"err":0.4},{"e":450,"s":"A","t":25,"y":13.2,"err":0.5},{"e":450,"s":"A","t":26,"y":13.7,"err":0.4},{"e":450,"s":"A","t":27,"y":13.0,"err":0.5},{"e":450,"s":"A","t":28,"y":13.5,"err":0.4},{"e":450,"s":"A","t":29,"y":13.2,"err":0.4},{"e":450,"s":"A","t":30,"y":13.6,"err":0.4},{"e":450,"s":"A","t":31,"y":12.9,"err":0.5},{"e":450,"s":"A","t":32,"y":13.3,"err":0.4},{"e":450,"s":"A","t":33,"y":13.0,"err":0.4},{"e":450,"s":"A","t":34,"y":13.4,"err":0.4},{"e":450,"s":"A","t":35,"y":12.7,"err":0.5},{"e":450,"s":"A","t":36,"y":13.1,"err":0.4},{"e":450,"s":"A","t":38,"y":12.9,"err":0.4},{"e":450,"s":"A","t":40,"y":12.8,"err":0.4},{"e":450,"s":"A","t":42,"y":12.6,"err":0.5},{"e":450,"s":"A","t":44,"y":13.0,"err":0.4},
{"e":450,"s":"A","t":17.5,"y":15.0,"err":0.5},{"e":450,"s":"A","t":18.5,"y":13.5,"err":0.6},{"e":450,"s":"A","t":19.5,"y":14.8,"err":0.5},{"e":450,"s":"A","t":20.5,"y":13.1,"err":0.6},{"e":450,"s":"A","t":21.5,"y":14.5,"err":0.5},{"e":450,"s":"A","t":22.5,"y":12.9,"err":0.6},{"e":450,"s":"A","t":24.5,"y":14.2,"err":0.5},{"e":450,"s":"A","t":26.5,"y":12.8,"err":0.5},{"e":450,"s":"A","t":28.5,"y":13.9,"err":0.4},{"e":450,"s":"A","t":30.5,"y":12.6,"err":0.5},{"e":450,"s":"A","t":32.5,"y":13.7,"err":0.4},{"e":450,"s":"A","t":34.5,"y":12.4,"err":0.5},
{"e":450,"s":"B","t":34,"y":13.4,"err":0.4},{"e":450,"s":"B","t":35,"y":14.1,"err":0.5},{"e":450,"s":"B","t":36,"y":12.9,"err":0.4},{"e":450,"s":"B","t":37,"y":12.4,"err":0.4},{"e":450,"s":"B","t":38,"y":13.6,"err":0.4},{"e":450,"s":"B","t":39,"y":14.0,"err":0.5},{"e":450,"s":"B","t":40,"y":12.6,"err":0.4},{"e":450,"s":"B","t":41,"y":13.2,"err":0.4},{"e":450,"s":"B","t":41.5,"y":14.4,"err":0.5},{"e":450,"s":"B","t":42,"y":13.8,"err":0.5},{"e":450,"s":"B","t":43,"y":12.8,"err":0.4},{"e":450,"s":"B","t":44,"y":12.3,"err":0.4},{"e":450,"s":"B","t":45,"y":13.1,"err":0.4},{"e":450,"s":"B","t":47,"y":12.7,"err":0.3},{"e":450,"s":"B","t":50,"y":12.5,"err":0.3},{"e":450,"s":"B","t":53,"y":12.4,"err":0.3},{"e":450,"s":"B","t":56,"y":12.2,"err":0.3},{"e":450,"s":"B","t":60,"y":12.3,"err":0.3},{"e":450,"s":"B","t":64,"y":12.1,"err":0.3},{"e":450,"s":"B","t":68,"y":12.2,"err":0.3},{"e":450,"s":"B","t":72,"y":12.4,"err":0.3},{"e":450,"s":"B","t":76,"y":12.1,"err":0.3},{"e":450,"s":"B","t":80,"y":12.5,"err":0.3},{"e":450,"s":"B","t":85,"y":12.7,"err":0.3},{"e":450,"s":"B","t":90,"y":12.4,"err":0.4},
{"e":450,"s":"C","t":72,"y":12.6,"err":0.4},{"e":450,"s":"C","t":76,"y":12.3,"err":0.4},{"e":450,"s":"C","t":80,"y":12.7,"err":0.4},{"e":450,"s":"C","t":84,"y":12.6,"err":0.4},{"e":450,"s":"C","t":88,"y":13.0,"err":0.5},{"e":450,"s":"C","t":92,"y":13.2,"err":0.5},{"e":450,"s":"C","t":96,"y":13.6,"err":0.5},{"e":450,"s":"C","t":100,"y":13.9,"err":0.5},{"e":450,"s":"C","t":104,"y":14.2,"err":0.5},{"e":450,"s":"C","t":108,"y":14.8,"err":0.6},{"e":450,"s":"C","t":112,"y":15.2,"err":0.6},{"e":450,"s":"C","t":116,"y":15.5,"err":0.6},{"e":450,"s":"C","t":120,"y":15.8,"err":0.7},{"e":450,"s":"C","t":124,"y":16.3,"err":0.7},{"e":450,"s":"C","t":128,"y":16.7,"err":0.8},{"e":450,"s":"C","t":132,"y":17.1,"err":0.8},{"e":450,"s":"C","t":135,"y":16.6,"err":0.9},
{"e":315,"s":"A","t":20,"y":9.0,"err":0.4},{"e":315,"s":"A","t":21,"y":8.6,"err":0.4},{"e":315,"s":"A","t":22,"y":9.1,"err":0.4},{"e":315,"s":"A","t":23,"y":8.4,"err":0.4},{"e":315,"s":"A","t":24,"y":8.8,"err":0.4},{"e":315,"s":"A","t":25,"y":8.2,"err":0.5},{"e":315,"s":"A","t":26,"y":8.7,"err":0.4},{"e":315,"s":"A","t":27,"y":8.4,"err":0.4},{"e":315,"s":"A","t":28,"y":8.9,"err":0.4},{"e":315,"s":"A","t":29,"y":8.1,"err":0.5},{"e":315,"s":"A","t":30,"y":8.5,"err":0.4},{"e":315,"s":"A","t":31,"y":7.8,"err":0.5},{"e":315,"s":"A","t":32,"y":8.3,"err":0.4},{"e":315,"s":"A","t":33,"y":8.0,"err":0.4},{"e":315,"s":"A","t":34,"y":8.4,"err":0.4},{"e":315,"s":"A","t":35,"y":7.6,"err":0.5},{"e":315,"s":"A","t":37,"y":8.1,"err":0.4},{"e":315,"s":"A","t":39,"y":7.8,"err":0.4},
{"e":315,"s":"A","t":20.5,"y":9.4,"err":0.4},{"e":315,"s":"A","t":21.5,"y":8.3,"err":0.5},{"e":315,"s":"A","t":22.5,"y":8.9,"err":0.4},{"e":315,"s":"A","t":23.5,"y":9.2,"err":0.4},{"e":315,"s":"A","t":24.5,"y":8.1,"err":0.5},{"e":315,"s":"A","t":25.5,"y":9.0,"err":0.4},{"e":315,"s":"A","t":27.5,"y":7.9,"err":0.5},{"e":315,"s":"A","t":29.5,"y":8.8,"err":0.4},{"e":315,"s":"A","t":31.5,"y":8.6,"err":0.4},{"e":315,"s":"A","t":33.5,"y":7.6,"err":0.5},{"e":315,"s":"A","t":36,"y":8.4,"err":0.4},
{"e":315,"s":"B","t":38,"y":8.0,"err":0.3},{"e":315,"s":"B","t":40,"y":7.7,"err":0.3},{"e":315,"s":"B","t":42,"y":7.9,"err":0.3},{"e":315,"s":"B","t":44,"y":7.6,"err":0.3},{"e":315,"s":"B","t":46,"y":7.8,"err":0.3},{"e":315,"s":"B","t":48,"y":7.4,"err":0.3},{"e":315,"s":"B","t":50,"y":7.6,"err":0.3},{"e":315,"s":"B","t":53,"y":7.3,"err":0.3},{"e":315,"s":"B","t":56,"y":7.5,"err":0.3},{"e":315,"s":"B","t":60,"y":7.2,"err":0.3},{"e":315,"s":"B","t":63,"y":7.4,"err":0.3},{"e":315,"s":"B","t":66,"y":7.0,"err":0.3},{"e":315,"s":"B","t":70,"y":7.3,"err":0.3},{"e":315,"s":"B","t":74,"y":7.1,"err":0.3},
{"e":315,"s":"C","t":68,"y":7.1,"err":0.4},{"e":315,"s":"C","t":72,"y":6.9,"err":0.4},{"e":315,"s":"C","t":76,"y":7.2,"err":0.4},{"e":315,"s":"C","t":80,"y":6.8,"err":0.4},{"e":315,"s":"C","t":84,"y":7.1,"err":0.4},{"e":315,"s":"C","t":88,"y":7.0,"err":0.4},{"e":315,"s":"C","t":92,"y":7.3,"err":0.5},{"e":315,"s":"C","t":96,"y":6.9,"err":0.5},{"e":315,"s":"C","t":100,"y":7.2,"err":0.5},{"e":315,"s":"C","t":104,"y":7.4,"err":0.5},{"e":315,"s":"C","t":108,"y":7.1,"err":0.5},{"e":315,"s":"C","t":112,"y":7.6,"err":0.5},{"e":315,"s":"C","t":116,"y":7.5,"err":0.5},{"e":315,"s":"C","t":120,"y":7.8,"err":0.6},{"e":315,"s":"C","t":124,"y":8.0,"err":0.6},{"e":315,"s":"C","t":128,"y":8.5,"err":0.6},{"e":315,"s":"C","t":131,"y":8.1,"err":0.6},
{"e":180,"s":"A","t":16,"y":4.1,"err":0.5},{"e":180,"s":"A","t":17,"y":3.6,"err":0.5},{"e":180,"s":"A","t":18,"y":4.4,"err":0.6},{"e":180,"s":"A","t":19,"y":3.8,"err":0.5},{"e":180,"s":"A","t":20,"y":3.3,"err":0.6},{"e":180,"s":"A","t":21,"y":4.0,"err":0.5},{"e":180,"s":"A","t":22,"y":3.5,"err":0.5},{"e":180,"s":"A","t":23,"y":4.5,"err":0.6},{"e":180,"s":"A","t":24,"y":3.7,"err":0.5},{"e":180,"s":"A","t":25,"y":3.2,"err":0.6},{"e":180,"s":"A","t":26,"y":3.9,"err":0.5},{"e":180,"s":"A","t":27,"y":2.8,"err":0.7},{"e":180,"s":"A","t":28,"y":3.5,"err":0.5},{"e":180,"s":"A","t":30,"y":3.8,"err":0.5},{"e":180,"s":"A","t":31,"y":3.1,"err":0.5},{"e":180,"s":"A","t":32,"y":4.3,"err":0.6},{"e":180,"s":"A","t":33,"y":3.4,"err":0.5},{"e":180,"s":"A","t":34,"y":2.9,"err":0.6},{"e":180,"s":"A","t":35,"y":3.6,"err":0.5},{"e":180,"s":"A","t":36,"y":3.2,"err":0.5},{"e":180,"s":"A","t":38,"y":3.0,"err":0.5},{"e":180,"s":"A","t":40,"y":2.7,"err":0.5},
{"e":180,"s":"A","t":16.5,"y":3.4,"err":0.5},{"e":180,"s":"A","t":17.5,"y":4.7,"err":0.6},{"e":180,"s":"A","t":18.5,"y":3.1,"err":0.6},{"e":180,"s":"A","t":19.5,"y":4.3,"err":0.5},{"e":180,"s":"A","t":21.5,"y":2.9,"err":0.6},{"e":180,"s":"A","t":22.5,"y":4.2,"err":0.5},{"e":180,"s":"A","t":24.5,"y":4.1,"err":0.6},{"e":180,"s":"A","t":25.5,"y":2.6,"err":0.6},{"e":180,"s":"A","t":27.5,"y":3.9,"err":0.5},{"e":180,"s":"A","t":29,"y":3.0,"err":0.5},{"e":180,"s":"A","t":31.5,"y":3.9,"err":0.5},{"e":180,"s":"A","t":33.5,"y":2.5,"err":0.6},{"e":180,"s":"A","t":37,"y":3.7,"err":0.5},
{"e":180,"s":"B","t":35,"y":3.8,"err":0.5},{"e":180,"s":"B","t":36,"y":3.1,"err":0.4},{"e":180,"s":"B","t":38,"y":3.4,"err":0.4},{"e":180,"s":"B","t":40,"y":2.7,"err":0.4},{"e":180,"s":"B","t":42,"y":3.1,"err":0.4},{"e":180,"s":"B","t":44,"y":2.5,"err":0.4},{"e":180,"s":"B","t":46,"y":2.9,"err":0.4},{"e":180,"s":"B","t":48,"y":2.2,"err":0.4},{"e":180,"s":"B","t":50,"y":2.7,"err":0.4},{"e":180,"s":"B","t":52,"y":3.6,"err":0.5},{"e":180,"s":"B","t":56,"y":2.1,"err":0.4},{"e":180,"s":"B","t":60,"y":1.9,"err":0.4},{"e":180,"s":"B","t":65,"y":2.1,"err":0.4},{"e":180,"s":"B","t":70,"y":1.7,"err":0.4},{"e":180,"s":"B","t":75,"y":2.0,"err":0.4},{"e":180,"s":"B","t":80,"y":1.6,"err":0.4},{"e":180,"s":"B","t":85,"y":1.9,"err":0.4},{"e":180,"s":"B","t":88,"y":1.5,"err":0.4},{"e":180,"s":"B","t":92,"y":1.8,"err":0.4},{"e":180,"s":"B","t":96,"y":2.1,"err":0.4},{"e":180,"s":"B","t":100,"y":2.95,"err":0.5},{"e":180,"s":"B","t":103,"y":2.2,"err":0.4},
{"e":180,"s":"C","t":86,"y":1.6,"err":0.4},{"e":180,"s":"C","t":90,"y":1.9,"err":0.4},{"e":180,"s":"C","t":94,"y":1.5,"err":0.4},{"e":180,"s":"C","t":96.5,"y":1.4,"err":0.4},{"e":180,"s":"C","t":99,"y":2.7,"err":0.4},{"e":180,"s":"C","t":102,"y":2.0,"err":0.5},{"e":180,"s":"C","t":104,"y":2.1,"err":0.5},{"e":180,"s":"C","t":107,"y":1.8,"err":0.5},{"e":180,"s":"C","t":110.5,"y":2.95,"err":0.6},{"e":180,"s":"C","t":112,"y":1.94,"err":0.6},{"e":180,"s":"C","t":116,"y":2.5,"err":0.6},{"e":180,"s":"C","t":119,"y":2.8,"err":0.6},{"e":180,"s":"C","t":122,"y":2.4,"err":0.6},{"e":180,"s":"C","t":125,"y":3.5,"err":0.6},{"e":180,"s":"C","t":128,"y":3.1,"err":0.5},{"e":180,"s":"C","t":130,"y":3.36,"err":0.6},{"e":180,"s":"C","t":133.6,"y":2.67,"err":0.5},{"e":180,"s":"C","t":136,"y":2.8,"err":0.5}
],
"labels":[
{"txt":"855 MeV","t":147.7,"y":44.45},
{"txt":"720 MeV","t":147.7,"y":33.54},
{"txt":"585 MeV","t":147.7,"y":28.78},
{"txt":"450 MeV","t":147.7,"y":18.27},
{"txt":"315 MeV","t":147.7,"y":9.22},
{"txt":"180 MeV","t":147.7,"y":4.55}
]
},
"layer":[
{"mark":{"type":"rect","fill":"white","stroke":null},
 "encoding":{
  "x":{"datum":3.9,"type":"quantitative","scale":{"domain":[0,150],"nice":false,"zero":false},"axis":null},
  "x2":{"datum":93.4},
  "y":{"datum":43.47,"type":"quantitative","scale":{"domain":[0,52],"nice":false,"zero":false},"axis":null},
  "y2":{"datum":51.45}}},
{"data":{"name":"points"},
 "mark":{"type":"errorbar","ticks":{"size":16,"thickness":2.2,"color":"black"},"thickness":2.2,"color":"black"},
 "encoding":{
  "x":{"field":"t","type":"quantitative","scale":{"domain":[0,150],"nice":false,"zero":false},"axis":null},
  "y":{"field":"y","type":"quantitative","scale":{"domain":[0,52],"nice":false,"zero":false},"axis":null},
  "yError":{"field":"err"}}},
{"data":{"name":"points"},"transform":[{"filter":"datum.s=='A'"}],
 "mark":{"type":"point","shape":"circle","filled":false,"stroke":"#1414ff","strokeWidth":1.8,"size":95,"opacity":1},
 "encoding":{
  "x":{"field":"t","type":"quantitative","scale":{"domain":[0,150],"nice":false,"zero":false},"axis":null},
  "y":{"field":"y","type":"quantitative","scale":{"domain":[0,52],"nice":false,"zero":false},"axis":null}}},
{"data":{"name":"points"},"transform":[{"filter":"datum.s=='B'"}],
 "mark":{"type":"point","shape":"square","filled":false,"stroke":"#ff1a1a","strokeWidth":2,"size":140,"opacity":1},
 "encoding":{
  "x":{"field":"t","type":"quantitative","scale":{"domain":[0,150],"nice":false,"zero":false},"axis":null},
  "y":{"field":"y","type":"quantitative","scale":{"domain":[0,52],"nice":false,"zero":false},"axis":null}}},
{"data":{"name":"points"},"transform":[{"filter":"datum.s=='C'"}],
 "mark":{"type":"point","shape":"triangle-up","filled":true,"fill":"#1e9a1e","size":60,"opacity":1},
 "encoding":{
  "x":{"field":"t","type":"quantitative","scale":{"domain":[0,150],"nice":false,"zero":false},"axis":null},
  "y":{"field":"y","type":"quantitative","scale":{"domain":[0,52],"nice":false,"zero":false},"axis":null}}},
{"data":{"name":"points"},
 "mark":{"type":"point","shape":"circle","filled":true,"fill":"black","size":12,"opacity":1},
 "encoding":{
  "x":{"field":"t","type":"quantitative","scale":{"domain":[0,150],"nice":false,"zero":false},"axis":null},
  "y":{"field":"y","type":"quantitative","scale":{"domain":[0,52],"nice":false,"zero":false},"axis":null}}},
{"data":{"name":"curves"},
 "transform":[{"fold":["P","PpD","PxD","IP","S","SxD","FW","DD","EGK"],"as":["model","val"]}],
 "mark":{"type":"line","interpolate":"monotone","strokeWidth":2.2,"clip":true},
 "encoding":{
  "x":{"field":"t","type":"quantitative","scale":{"domain":[0,150],"nice":false,"zero":false},
   "axis":{"orient":"bottom","values":[0,20,40,60,80,100,120,140],"labelExpr":"datum.value+'°'","tickSize":-19,"tickColor":"#222222","tickWidth":2,"labelPadding":32,"labelFont":"DejaVu Serif","labelFontSize":28,"labelColor":"black","grid":true,"gridColor":"#c4c4c4","gridWidth":2.2,"domain":false,"title":"Scattering angle θ","titleFont":"DejaVu Serif","titleFontSize":28,"titleFontWeight":"normal","titleColor":"black","titlePadding":30}},
  "y":{"field":"val","type":"quantitative","scale":{"domain":[0,52],"nice":false,"zero":false},
   "axis":{"orient":"left","values":[1,2,3,4,5,6,7,8,9,10,11,12,13,14,15,16,17,18,19,20,21,22,23,24,25,26,27,28,29,30,31,32,33,34,35,36,37,38,39,40,41,42,43,44,45,46,47,48,49,50,51],
    "labelExpr":"datum.value==49?'+15%':datum.value==44?'+10%':datum.value==39?'+5%':datum.value==36?'+2%':datum.value>36?'':((datum.value+2)%6==0?'0%':(datum.value+2)%6==1?'+1%':(datum.value+2)%6==3?'-3%':(datum.value+2)%6==4?'-2%':(datum.value+2)%6==5?'-1%':'')",
    "tickSize":-20,"tickColor":"#222222","tickWidth":2,"labelPadding":55,"labelFont":"DejaVu Serif","labelFontSize":28,"labelColor":"black","labelAlign":"right","labelBaseline":"middle","grid":true,"gridColor":"#c4c4c4","gridWidth":2.2,"domain":false,"title":null}},
  "color":{"field":"model","type":"nominal",
   "scale":{"domain":["P","PpD","PxD","IP","S","SxD","FW","DD","EGK"],"range":["#e4211c","#a04545","#c8405a","#e0a020","#40e6e6","#2a8a8a","#3cb034","#3040c8","#b040d0"]},
   "legend":{"orient":"none","legendX":353,"legendY":7.7,"title":null,"direction":"vertical",
    "labelExpr":"datum.label=='P'?'Polynomial':datum.label=='PpD'?'Poly. + dip.':datum.label=='PxD'?'Poly. × dip.':datum.label=='IP'?'Inv. poly.':datum.label=='S'?'Spline':datum.label=='SxD'?'Spline × dip.':datum.label=='FW'?'Friedrich-Walcher':datum.label=='DD'?'Double Dipole':'Extended G.K.'",
    "labelFont":"DejaVu Serif","labelFontSize":28,"labelColor":"black","labelAlign":"right","labelOffset":-92.5,"labelLimit":600,
    "symbolType":"M-5,0H5","symbolSize":400,"symbolStrokeWidth":2.5,"symbolOffset":36,"rowPadding":4.45,"padding":14}},
  "strokeDash":{"field":"model","type":"nominal",
   "scale":{"domain":["P","PpD","PxD","IP","S","SxD","FW","DD","EGK"],"range":[[1,0],[9,5],[2,2],[1,0],[1,0],[9,6],[1,0],[1,0],[1,0]]},
   "legend":{"orient":"none","legendX":353,"legendY":7.7,"title":null,"direction":"vertical",
    "labelExpr":"datum.label=='P'?'Polynomial':datum.label=='PpD'?'Poly. + dip.':datum.label=='PxD'?'Poly. × dip.':datum.label=='IP'?'Inv. poly.':datum.label=='S'?'Spline':datum.label=='SxD'?'Spline × dip.':datum.label=='FW'?'Friedrich-Walcher':datum.label=='DD'?'Double Dipole':'Extended G.K.'",
    "labelFont":"DejaVu Serif","labelFontSize":28,"labelColor":"black","labelAlign":"right","labelOffset":-92.5,"labelLimit":600,
    "symbolType":"M-5,0H5","symbolSize":400,"symbolStrokeWidth":2.5,"symbolOffset":36,"rowPadding":4.45,"padding":14}},
  "detail":{"field":"e","type":"nominal"}}},
{"data":{"name":"labels"},
 "mark":{"type":"text","align":"right","baseline":"middle","font":"DejaVu Serif","fontSize":28,"color":"black"},
 "encoding":{
  "x":{"field":"t","type":"quantitative","scale":{"domain":[0,150],"nice":false,"zero":false},
   "axis":{"orient":"top","values":[0,20,40,60,80,100,120,140],"labels":false,"tickSize":-19,"tickColor":"#222222","tickWidth":2,"grid":false,"domain":false,"title":null}},
  "y":{"field":"y","type":"quantitative","scale":{"domain":[0,52],"nice":false,"zero":false},
   "axis":{"orient":"right","values":[1,2,3,4,5,6,7,8,9,10,11,12,13,14,15,16,17,18,19,20,21,22,23,24,25,26,27,28,29,30,31,32,33,34,35,36,37,38,39,40,41,42,43,44,45,46,47,48,49,50,51],"labels":false,"tickSize":-20,"tickColor":"#222222","tickWidth":2,"grid":false,"domain":false,"title":null}},
  "text":{"field":"txt"}}}
],
"resolve":{"axis":{"x":"independent","y":"independent"}}
}
